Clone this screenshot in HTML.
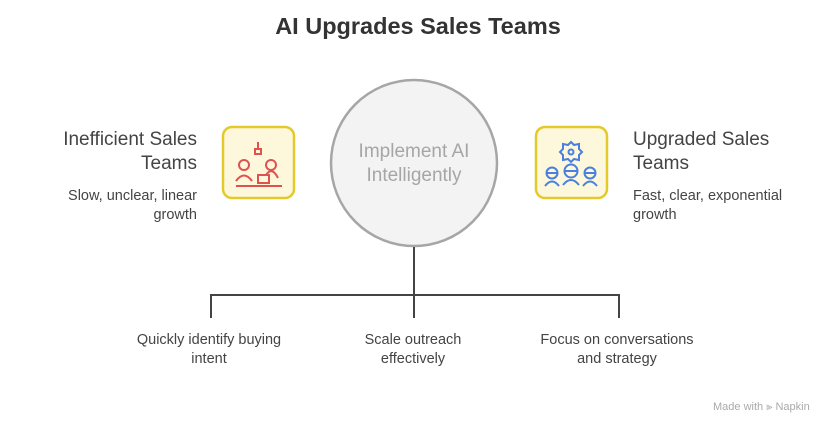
<!DOCTYPE html>
<html><head><meta charset="utf-8"><style>
body{margin:0;width:836px;height:425px;background:#fff;font-family:"Liberation Sans",sans-serif;position:relative;overflow:hidden}
.t{position:absolute;white-space:nowrap}
</style></head><body>
<div class="t" style="left:0;width:836px;text-align:center;top:13px;font-size:23.5px;font-weight:bold;color:#333">AI Upgrades Sales Teams</div>
<svg width="836" height="425" style="position:absolute;left:0;top:0">
<circle cx="414" cy="163" r="83" fill="#f3f3f3" stroke="#a6a6a6" stroke-width="2.5"/>
<path d="M414 247V295M211 295H619M211 294V318M414 294V318M619 294V318" stroke="#444" stroke-width="2" fill="none"/>
<rect x="223" y="127" width="71" height="71" rx="9" fill="#fdf8dc" stroke="#e3c92a" stroke-width="2.5"/>
<rect x="536" y="127" width="71" height="71" rx="9" fill="#fdf8dc" stroke="#e3c92a" stroke-width="2.5"/>
<g stroke="#e0524d" stroke-width="2" fill="none">
<path d="M258 142v7M255 149h6v5h-6z"/>
<circle cx="244" cy="165" r="5"/><circle cx="271" cy="165" r="5"/>
<path d="M236 181q8-11 16 0M258 175h11v8h-11zM266 175q6-9 12 3"/>
<path d="M236 186h46"/>
</g>
<g stroke="#4a7fe0" stroke-width="2" fill="none">
<path d="M571 142l3 3 5-1 0 5 3 3-3 3 0 5-5-1-3 3-3-3-5 1 0-5-3-3 3-3 0-5 5 1z"/>
<circle cx="571" cy="152" r="2.5"/>
<circle cx="552" cy="173" r="5.5"/><circle cx="571" cy="171" r="6.5"/><circle cx="590" cy="173" r="5.5"/>
<path d="M546 173h12M564 171h14M584 173h12M545 186q7-9 14 0M563 185q8-10 16 0M583 186q7-9 14 0"/>
</g>
</svg>
<div class="t" style="left:330px;width:168px;text-align:center;top:140px;font-size:19px;line-height:24px;color:#a6a6a6;white-space:normal">Implement AI<br>Intelligently</div>
<div class="t" style="right:639px;text-align:right;top:128px;font-size:19px;line-height:24px;color:#444">Inefficient Sales<br>Teams</div>
<div class="t" style="right:639px;text-align:right;top:187px;font-size:14.5px;line-height:19px;color:#444">Slow, unclear, linear<br>growth</div>
<div class="t" style="left:633px;top:128px;font-size:19px;line-height:24px;color:#444">Upgraded Sales<br>Teams</div>
<div class="t" style="left:633px;top:187px;font-size:14.5px;line-height:19px;color:#444">Fast, clear, exponential<br>growth</div>
<div class="t" style="left:109px;width:200px;text-align:center;top:331px;font-size:14.5px;line-height:19px;color:#444">Quickly identify buying<br>intent</div>
<div class="t" style="left:313px;width:200px;text-align:center;top:331px;font-size:14.5px;line-height:19px;color:#444">Scale outreach<br>effectively</div>
<div class="t" style="left:517px;width:200px;text-align:center;top:331px;font-size:14.5px;line-height:19px;color:#444">Focus on conversations<br>and strategy</div>
<div class="t" style="left:713px;top:401px;font-size:11px;color:#aaa">Made with ⫸ Napkin</div>
</body></html>
